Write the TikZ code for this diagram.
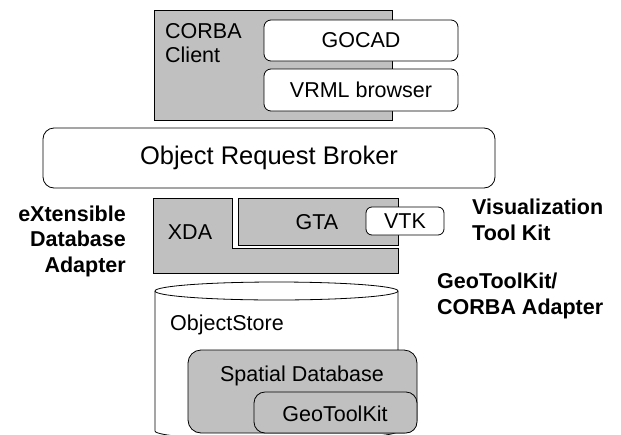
\documentclass[tikz,border=0pt]{standalone}
\usepackage{fontspec}
\setmainfont{Liberation Sans}
\definecolor{gfill}{HTML}{C0C0C0}
\begin{document}
\begin{tikzpicture}[x=1pt,y=-1pt,
  ln/.style={draw=black, line width=0.8pt},
  graybox/.style={ln, fill=gfill, inner sep=0pt},
  wbox/.style={ln, fill=white, rounded corners=7pt, inner sep=0pt},
  txt/.style={font=\fontsize{21.5}{24.5}\selectfont, inner sep=0pt},
  bigtxt/.style={font=\fontsize{25.5}{28}\selectfont, inner sep=0pt},
  btxt/.style={font=\bfseries\fontsize{21.5}{25.5}\selectfont, inner sep=0pt}]
\useasboundingbox (0,0) rectangle (621,434);
\fill[white] (0,0) rectangle (621,434);
\clip (0,0) rectangle (621,434);

% CORBA client
\node[graybox, minimum width=238pt, minimum height=110pt] (client) at (273,65) {};
\node[txt, anchor=north west, align=left] (clienttxt) at (165,23) {CORBA\\Client};
\node[wbox, minimum width=194pt, minimum height=41pt] (gocad) at (361,40.5) {};
\node[txt] (gocadtxt) at (gocad) {GOCAD};
\node[wbox, minimum width=194pt, minimum height=42pt] (vrml) at (361,90) {};
\node[txt] (vrmltxt) at (vrml) {VRML browser};

% ORB
\node[wbox, rounded corners=11pt, minimum width=452pt, minimum height=60pt] (orb) at (269,158) {};
\node[bigtxt] (orbtxt) at (orb) {Object Request Broker};

% XDA / GTA
\draw[graybox] (153,198) -- (232,198) -- (232,248) -- (398,248) -- (398,273) -- (153,273) -- cycle;
\node[txt] (xda) at (190,232) {XDA};
\node[graybox, minimum width=160pt, minimum height=47pt] (gta) at (318,221.5) {};
\node[txt] (gtatxt) at (317,222) {GTA};
\node[wbox, rounded corners=6pt, minimum width=78pt, minimum height=28pt] (vtk) at (405,221) {};
\node[txt] (vtktxt) at (vtk) {VTK};

% side labels
\node[btxt, anchor=east, align=right] (xdalabel) at (126,241) {eXtensible\\Database\\Adapter};
\node[btxt, anchor=west, align=left] (vtklabel) at (472,220) {Visualization\\Tool Kit};
\node[btxt, anchor=west, align=left] (gtalabel) at (437,296) {GeoToolKit/\\CORBA Adapter};

% cylinder
\filldraw[ln, fill=white] (155,291) -- (155,431) arc[start angle=180, end angle=0, x radius=121.5, y radius=9] -- (398,291);
\filldraw[ln, fill=white] (276.5,291) ellipse [x radius=121.5, y radius=9];
\node[txt, anchor=west] (ostore) at (170,325) {ObjectStore};

\node[graybox, rounded corners=13pt, minimum width=229pt, minimum height=83pt] (spatial) at (302.5,391.5) {};
\node[txt] (spatialtxt) at (302,376) {Spatial Database};
\node[graybox, rounded corners=11pt, minimum width=163pt, minimum height=41pt] (gtk) at (335.5,412.5) {};
\node[txt] (gtktxt) at (335,414) {GeoToolKit};
\end{tikzpicture}
\end{document}
